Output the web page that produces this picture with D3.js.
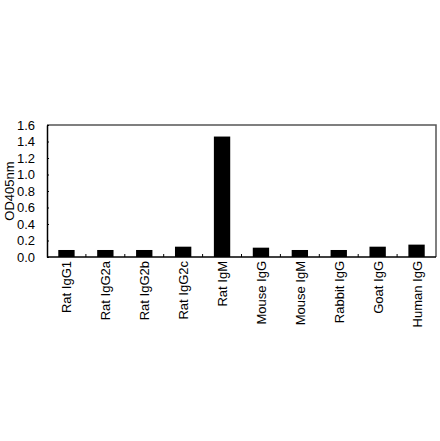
<!DOCTYPE html>
<html>
  <head>
    <meta charset="utf-8">
    <title>OD405nm</title>
    <style>
      body { margin: 0; background: #fff; }
      svg { display: block; font-family: Arial, "Liberation Sans", sans-serif; }
    </style>
  </head>
  <body>
    <div id="chart"></div>
    <script src="https://cdn.jsdelivr.net/npm/d3@7/dist/d3.min.js"></script>
    <script>
    var categories = ["Rat IgG1", "Rat IgG2a", "Rat IgG2b", "Rat IgG2c", "Rat IgM",
                      "Mouse IgG", "Mouse IgM", "Rabbit IgG", "Goat IgG", "Human IgG"];
    var values = [0.085, 0.085, 0.085, 0.125, 1.46, 0.113, 0.085, 0.085, 0.125, 0.15];
    var yTicks = [0, 0.2, 0.4, 0.6, 0.8, 1.0, 1.2, 1.4, 1.6];

    var width = 440, height = 441;
    // plot area edges (note: "top" is reserved on window)
    var plotL = 47, plotR = 436, plotT = 125, plotB = 257;

    var svg = d3.select("#chart").append("svg")
        .attr("width", width)
        .attr("height", height);

    var x = d3.scaleBand()
        .domain(categories)
        .range([plotL, plotR])
        .paddingInner(0.58)
        .paddingOuter(0.29);

    var y = d3.scaleLinear()
        .domain([0, 1.6])
        .range([plotB, plotT]);

    // frame: top and right in grey
    svg.append("path")
        .attr("d", "M" + plotL + "," + plotT + "H" + plotR + "V" + plotB)
        .attr("fill", "none")
        .attr("stroke", "#555")
        .attr("stroke-width", 1.5);

    // bars
    svg.selectAll(".bar")
        .data(values)
        .enter().append("rect")
        .attr("class", "bar")
        .attr("x", function(d, i) { return x(categories[i]); })
        .attr("width", x.bandwidth())
        .attr("y", function(d) { return y(d); })
        .attr("height", function(d) { return y(0) - y(d); })
        .attr("fill", "#000");

    // y axis
    var yAxis = d3.axisLeft(y)
        .tickValues(yTicks)
        .tickFormat(d3.format(".1f"))
        .tickSizeInner(-2)
        .tickSizeOuter(0)
        .tickPadding(12);

    var gy = svg.append("g")
        .attr("transform", "translate(" + plotL + ",0)")
        .call(yAxis);
    gy.select(".domain").attr("stroke", "#000").attr("stroke-width", 1.5);
    gy.selectAll(".tick line").attr("stroke", "#000");
    gy.selectAll(".tick text")
        .attr("fill", "#000")
        .style("font-size", "13px");

    // x axis line with ticks between categories
    var gx = svg.append("g");
    gx.append("line")
        .attr("x1", plotL).attr("x2", plotR)
        .attr("y1", plotB).attr("y2", plotB)
        .attr("stroke", "#000")
        .attr("stroke-width", 1.5);

    var gap = (x.step() - x.bandwidth()) / 2;
    gx.selectAll(".sep")
        .data(categories.slice(1))
        .enter().append("line")
        .attr("class", "sep")
        .attr("x1", function(d) { return x(d) - gap; })
        .attr("x2", function(d) { return x(d) - gap; })
        .attr("y1", plotB)
        .attr("y2", plotB - 3)
        .attr("stroke", "#000");

    gx.selectAll(".xlabel")
        .data(categories)
        .enter().append("text")
        .attr("class", "xlabel")
        .attr("transform", function(d) {
            return "translate(" + (x(d) + x.bandwidth() / 2 + 5) + "," + (plotB + 4) + ") rotate(-90)";
        })
        .attr("text-anchor", "end")
        .style("font-size", "13px")
        .attr("fill", "#000")
        .text(function(d) { return d; });

    // y title
    svg.append("text")
        .attr("transform", "translate(13.5," + ((plotT + plotB) / 2) + ") rotate(-90)")
        .attr("text-anchor", "middle")
        .style("font-size", "13px")
        .attr("fill", "#000")
        .text("OD405nm");
    </script>
  </body>
</html>
